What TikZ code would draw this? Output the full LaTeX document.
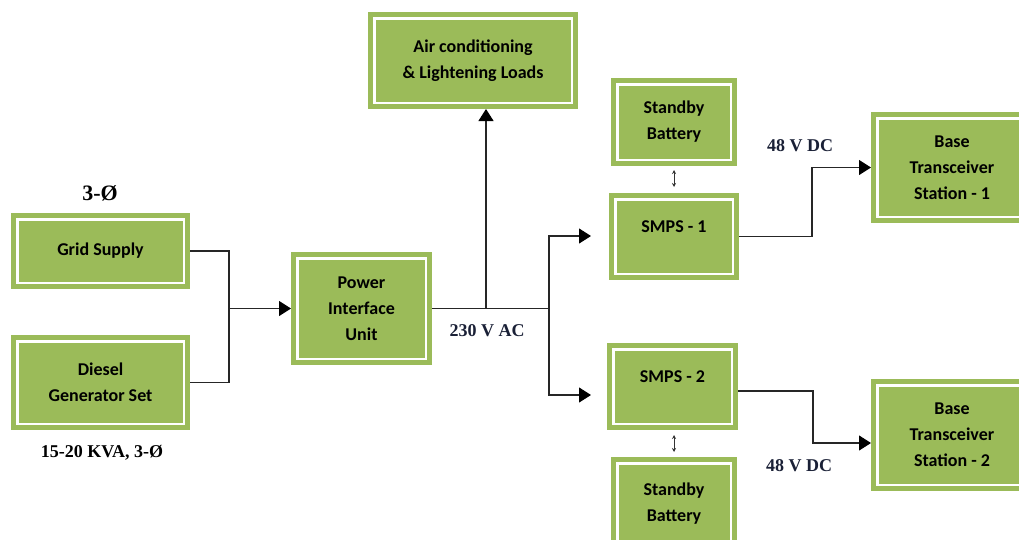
\documentclass[tikz,border=0pt]{standalone}
\usepackage{fontspec}
\setmainfont{Carlito}
\newfontfamily\valuefont{Liberation Serif}
\usetikzlibrary{arrows.meta}

\definecolor{boxgreen}{HTML}{9BBB59}
\definecolor{valueblue}{HTML}{1A2036}

\begin{document}
\begin{tikzpicture}[x=1pt, y=-1pt,
    block/.style={draw=boxgreen, double=white, line width=5pt, double distance=2.5pt,
        fill=boxgreen, outer sep=6.25pt, inner sep=0pt, align=center,
        font=\fontsize{18}{26}\selectfont\bfseries},
    wire/.style={draw=black!85, line width=1.1pt},
    feed/.style={wire, -{Triangle[length=12pt, width=15pt, color=black]}},
    link/.style={draw=black!80, line width=0.8pt, {Stealth[length=4pt,width=4pt]}-{Stealth[length=4pt,width=4pt]}},
    value/.style={font=\valuefont\fontsize{18}{22}\selectfont\bfseries}]

    \useasboundingbox (0,0) rectangle (1019,539);
    \clip (0,0) rectangle (1019,539);

    % sources
    \node[block, minimum width=166.5, minimum height=63.5] (grid) at (100.5,251) {Grid Supply};
    \node[block, minimum width=166.5, minimum height=82.5] (diesel) at (100.5,382.5) {Diesel\\Generator Set};
    \node[value, font=\valuefont\fontsize{22}{26}\selectfont\bfseries] (gridph) at (100,193) {3-Ø};
    \node[value] (dieselkva) at (102,453) {15-20 KVA, 3-Ø};

    \node[block, minimum width=128.5, minimum height=100.5] (piu) at (361.5,308.5) {Power\\Interface\\Unit};
    \node[block, minimum width=197.5, minimum height=84.5] (air) at (473,60.5) {Air conditioning\\\& Lightening Loads};

    % rectifiers and batteries
    \node[block, minimum width=113.5, minimum height=75.5] (bat1) at (674,122) {Standby\\Battery};
    \node[block, minimum width=117.5, minimum height=74.5] (smps1) at (674,236.5) {SMPS - 1\\[-6pt]\mbox{}};
    \node[block, minimum width=118.5, minimum height=74.5] (smps2) at (672.5,386.5) {SMPS - 2\\[-6pt]\mbox{}};
    \node[block, minimum width=113.5, minimum height=80.5] (bat2) at (674,503.5) {Standby\\Battery};

    \node[block, minimum width=149.5, minimum height=98.5] (bts1) at (952,167.5) {Base\\Transceiver\\Station - 1};
    \node[block, minimum width=149.5, minimum height=99.5] (bts2) at (952,435) {Base\\Transceiver\\Station - 2};

    \node[value, text=valueblue] (ac) at (487,331) {230 V AC};
    \node[value, text=valueblue] (dc1) at (800,146) {48 V DC};
    \node[value, text=valueblue] (dc2) at (799,466) {48 V DC};

    \coordinate (merge) at (229,308.5);
    \coordinate (tap) at (486,308.5);
    \coordinate (split) at (549,308.5);
    \coordinate (s1in) at (591,236);
    \coordinate (s2in) at (591,395);

    \draw[wire] (grid.east) -| (merge);
    \draw[wire] (diesel.east) -| (merge);
    \draw[feed] (merge) -- (piu.west);

    \draw[wire] (piu.east) -- (split);
    \draw[feed] (tap) -- (tap |- air.south);
    \draw[feed] (split) |- (s1in);
    \draw[feed] (split) |- (s2in);

    \draw[feed] (smps1.east) -- ++(73,0) |- (bts1.west);
    \draw[feed] ([yshift=-4.5pt]smps2.east) -- ++(75,0) |- ([yshift=-8pt]bts2.west);

    \draw[link, shorten <=4pt, shorten >=6pt] (bat1.south) -- (smps1.north);
    \draw[link, shorten <=5pt, shorten >=5pt] (bat2.north |- smps2.south) -- (bat2.north);
\end{tikzpicture}
\end{document}
